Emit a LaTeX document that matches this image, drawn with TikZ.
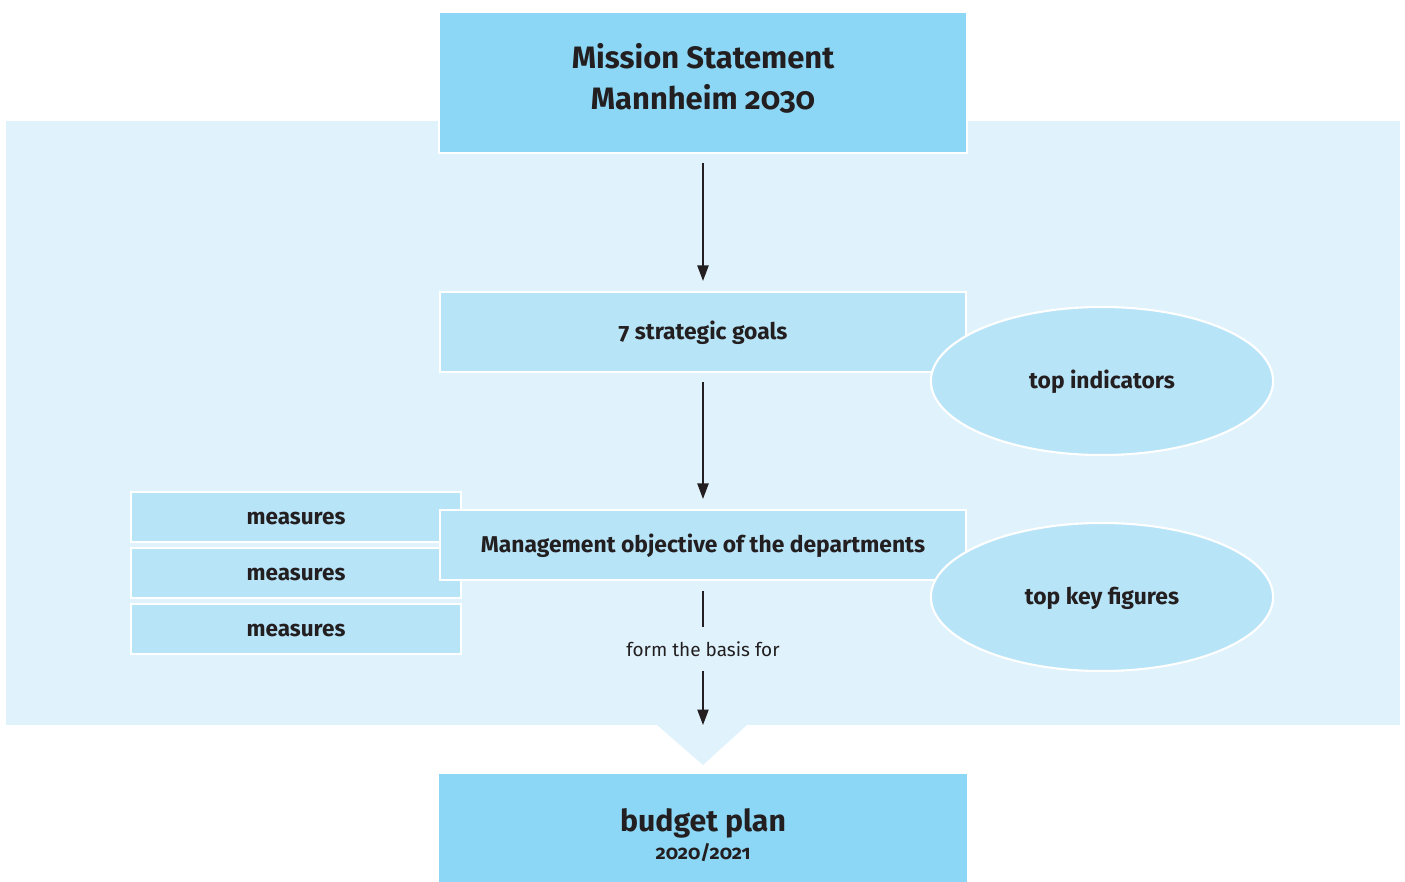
\documentclass[tikz,border=0pt]{standalone}
\usepackage{fontspec}
\setmainfont{Fira Sans}[Numbers=OldStyle]
\usetikzlibrary{arrows.meta, positioning, shapes.geometric}
\definecolor{darkblue}{HTML}{8DD7F6}
\definecolor{lightblue}{HTML}{B8E4F8}
\definecolor{paleblue}{HTML}{E0F2FC}
\definecolor{ink}{HTML}{231F20}

\begin{document}
\begin{tikzpicture}[x=0.01cm, y=-0.01cm,
    box/.style={draw=white, line width=0.6pt, fill=lightblue, text=ink,
      font=\bfseries\fontsize{6.5}{8}\selectfont, inner sep=0pt, minimum width=5.26cm,
      text height=4.3pt, text depth=0pt},
    bigbox/.style={draw=white, line width=0.6pt, fill=darkblue, text=ink, inner sep=0pt,
      align=center, minimum width=5.28cm},
    mbox/.style={box, minimum width=3.3cm, minimum height=0.5cm, font=\bfseries\fontsize{6.4}{7}\selectfont},
    oval/.style={ellipse, draw=white, line width=0.6pt, fill=lightblue, text=ink,
      font=\bfseries\fontsize{6.5}{8}\selectfont, inner sep=0pt,
      text height=4pt, text depth=0pt,
      minimum width=3.42cm, minimum height=1.48cm},
    arrow/.style={-{Triangle[width=3.2pt, length=4.4pt]}, ink, line width=0.4pt}]
\useasboundingbox (0,0) rectangle (1405,881);
% light panel with its notch
\fill[paleblue] (6,121) rectangle (1400,725);
\fill[paleblue] (657,725) -- (747,725) -- (703,765) -- cycle;

\node[bigbox, minimum height=1.41cm, font=\bfseries\fontsize{8.8}{11.4}\selectfont]
  (mission) at (703,82.5)
  {\raisebox{0.015cm}[\height][\depth]{\begin{tabular}{@{}c@{}}Mission Statement\\Mannheim 2030\end{tabular}}};
\node[box, minimum height=0.8cm] (goals) at (703,332) {7 strategic goals};
\node[oval] (indicators) at (1102,381) {top indicators};

\node[mbox] (measA) at (296,517) {measures};
\node[mbox, below=0.04cm of measA] (measB) {measures};
\node[mbox, below=0.04cm of measB] (measC) {measures};
\node[box, minimum height=0.7cm] (mgmt) at (703,545) {Management objective of the departments};
\node[oval] (keyfig) at (1102,597) {top key figures};

\node[text=ink, font=\fontsize{5.4}{7}\selectfont, inner sep=0pt] (basis) at (703,649) {form the basis for};
\coordinate (notch) at (703,725);

% box runs past the lower edge of the page
\node[bigbox, minimum height=1.24cm, minimum width=5.3cm,
  font=\bfseries\fontsize{8.6}{9}\selectfont] (budget) at (703,835)
  {budget plan\\[-1pt]{\fontsize{5.6}{7}\selectfont 2020/2021}};

\draw[arrow, shorten <=0.09cm, shorten >=0.1cm] (mission) -- (goals);
\draw[arrow, shorten <=0.09cm, shorten >=0.1cm] (goals) -- (mgmt);
\draw[ink, line width=0.4pt, shorten <=0.1cm, shorten >=0.14cm] (mgmt) -- (basis);
\draw[arrow, shorten <=0.14cm] (basis) -- (notch);
\end{tikzpicture}
\end{document}
